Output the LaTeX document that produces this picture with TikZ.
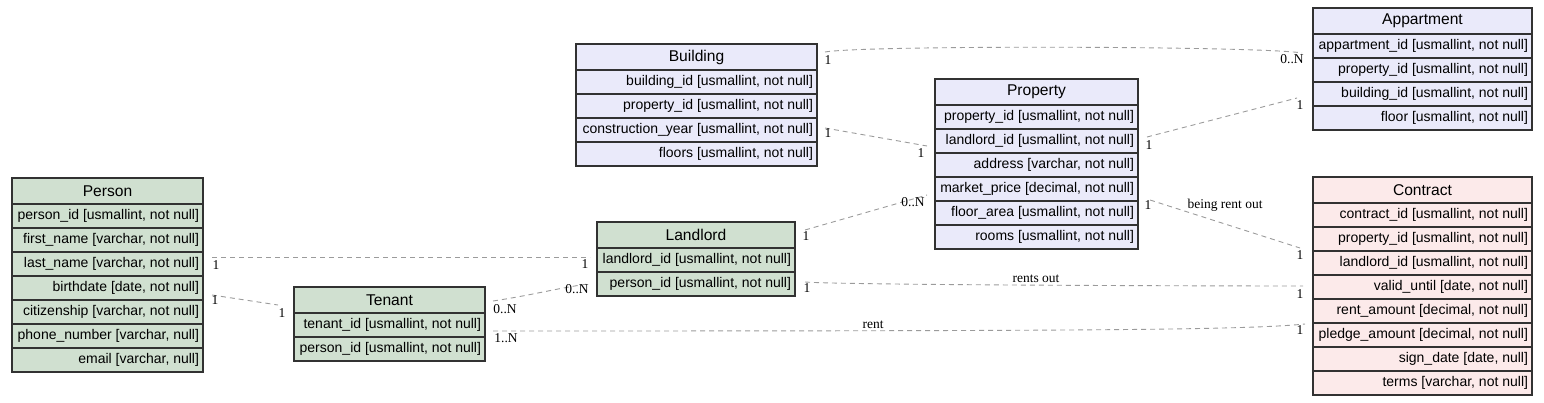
\documentclass[tikz,border=0pt]{standalone}
\usepackage{fontspec}
\setmainfont{Liberation Serif}
\newfontfamily\tabfont{Liberation Sans}
\usepackage{xcolor}
\usepackage{tikz}
\usetikzlibrary{positioning}
\definecolor{verdetab}{RGB}{208,224,208}
\definecolor{lilastab}{RGB}{234,234,250}
\definecolor{rosatab}{RGB}{252,234,234}
\definecolor{bordatab}{RGB}{50,50,50}
\definecolor{cinzarel}{RGB}{155,155,155}

% table: name, top-left corner, inner width, fill, title, fields
\newcommand{\erdtable}[6]{%
  \node[tabhead, fill=#4, anchor=north west] (#1-0) at #2 {\makebox[#3][c]{#5}};
  \foreach \f [count=\i, remember=\i as \j (initially 0)] in {#6}
    \node[tabrow, fill=#4, below=0pt of #1-\j] (#1-\i) {\makebox[#3][r]{\f}};
}

\begin{document}
\begin{tikzpicture}[x=1pt, y=-1pt,
    tabrow/.style={draw=bordatab, line width=1.3pt,
      minimum height=24pt, inner xsep=4pt, inner ysep=2pt, outer sep=0pt,
      font=\tabfont\fontsize{14}{16}\selectfont},
    tabhead/.style={tabrow, minimum height=26pt,
      font=\tabfont\fontsize{15.6}{18}\selectfont},
    rel/.style={draw=cinzarel, line width=0.9pt, dash pattern=on 5pt off 4pt},
    card/.style={inner sep=0pt, font=\fontsize{13.5}{15}\selectfont},
    rellabel/.style={inner sep=0pt, font=\fontsize{13.5}{15}\selectfont}]
  \useasboundingbox (0,0) rectangle (1544,403);

  % --- Person, Tenant, Landlord ---
  \erdtable{person}{(12,178)}{183pt}{verdetab}{Person}{%
    {person\_id [usmallint, not null]}, {first\_name [varchar, not null]},
    {last\_name [varchar, not null]}, {birthdate [date, not null]},
    {citizenship [varchar, not null]}, {phone\_number [varchar, null]},
    {email [varchar, null]}}
  \erdtable{tenant}{(294,287)}{183pt}{verdetab}{Tenant}{%
    {tenant\_id [usmallint, not null]}, {person\_id [usmallint, not null]}}
  \erdtable{landlord}{(597,222)}{190pt}{verdetab}{Landlord}{%
    {landlord\_id [usmallint, not null]}, {person\_id [usmallint, not null]}}

  % --- Building, Property, Appartment ---
  \erdtable{building}{(576,44)}{233pt}{lilastab}{Building}{%
    {building\_id [usmallint, not null]}, {property\_id [usmallint, not null]},
    {construction\_year [usmallint, not null]}, {floors [usmallint, not null]}}
  \erdtable{property}{(935,79)}{195pt}{lilastab}{Property}{%
    {property\_id [usmallint, not null]}, {landlord\_id [usmallint, not null]},
    {address [varchar, not null]}, {market\_price [decimal, not null]},
    {floor\_area [usmallint, not null]}, {rooms [usmallint, not null]}}
  \erdtable{appartment}{(1313,8)}{211pt}{lilastab}{Appartment}{%
    {appartment\_id [usmallint, not null]}, {property\_id [usmallint, not null]},
    {building\_id [usmallint, not null]}, {floor [usmallint, not null]}}

  % --- Contract ---
  \erdtable{contract}{(1313,177)}{211pt}{rosatab}{Contract}{%
    {contract\_id [usmallint, not null]}, {property\_id [usmallint, not null]},
    {landlord\_id [usmallint, not null]}, {valid\_until [date, not null]},
    {rent\_amount [decimal, not null]}, {pledge\_amount [decimal, not null]},
    {sign\_date [date, null]}, {terms [varchar, not null]}}

  % --- Relacoes ---
  \draw[rel] ([shift={(9,-7)}]person-3.east) coordinate (e1s)
    -- ([shift={(-7,-3)}]landlord-1.west) coordinate (e1e);
  \node[card] (c1s) at ([shift={(4,8)}]e1s) {1};
  \node[card] (c1e) at ([shift={(-5,7)}]e1e) {1};

  \draw[rel] ([shift={(9,7)}]person-4.east) coordinate (e2s)
    -- ([shift={(-16,5)}]tenant-0.west) coordinate (e2e);
  \node[card] (c2s) at ([shift={(3,5)}]e2s) {1};
  \node[card] (c2e) at ([shift={(4,8)}]e2e) {1};

  \draw[rel] ([shift={(8,1)}]tenant-0.east) coordinate (e3s)
    .. controls +(40,-6) and +(-30,4) .. ([shift={(-9,0)}]landlord-2.west) coordinate (e3e);
  \node[card] (c3s) at ([shift={(12,8)}]e3s) {0..N};
  \node[card] (c3e) at ([shift={(-11,5)}]e3e) {0..N};

  \draw[rel] ([shift={(8,6)}]tenant-1.east) coordinate (e4s)
    .. controls +(600,0) and +(-60,6) .. ([shift={(-8,-11)}]contract-6.west) coordinate (e4e);
  \node[card] (c4s) at ([shift={(13,7)}]e4s) {1..N};
  \node[card] (c4e) at ([shift={(-5,6)}]e4e) {1};
  \node[rellabel] (rent) at (873,325) {rent};

  \draw[rel] ([shift={(10,-2)}]landlord-2.east) coordinate (e5s)
    .. controls +(40,3) and +(-100,0) .. ([shift={(-10,-1)}]contract-4.west) coordinate (e5e);
  \node[card] (c5s) at ([shift={(2,6)}]e5s) {1};
  \node[card] (c5e) at ([shift={(-3,8)}]e5e) {1};
  \node[rellabel] (rentsout) at (1036,279) {rents out};

  \draw[rel] ([shift={(10,-5)}]landlord-0.east) coordinate (e6s)
    -- ([shift={(-8,6)}]property-4.west) coordinate (e6e);
  \node[card] (c6s) at ([shift={(1,6)}]e6s) {1};
  \node[card] (c6e) at ([shift={(-14,7)}]e6e) {0..N};

  \draw[rel] ([shift={(12,11)}]property-4.east) coordinate (e7s)
    -- ([shift={(-13,9)}]contract-2.west) coordinate (e7e);
  \node[card] (c7s) at ([shift={(-2,5)}]e7s) {1};
  \node[card] (c7e) at ([shift={(0,7)}]e7e) {1};
  \node[rellabel] (beingrent) at (1225,205) {being rent out};

  \draw[rel] ([shift={(8,-2)}]building-3.east) coordinate (e8s)
    -- ([shift={(-8,5)}]property-2.west) coordinate (e8e);
  \node[card] (c8s) at ([shift={(3,5)}]e8s) {1};
  \node[card] (c8e) at ([shift={(-6,7)}]e8e) {1};

  \draw[rel] ([shift={(8,-5)}]building-0.east) coordinate (e9s)
    .. controls +(40,-7) and +(-40,-7) .. ([shift={(-11,7)}]appartment-1.west) coordinate (e9e);
  \node[card] (c9s) at ([shift={(3,8)}]e9s) {1};
  \node[card] (c9e) at ([shift={(-10,6)}]e9e) {0..N};

  \draw[rel] ([shift={(9,-4)}]property-2.east) coordinate (e10s)
    -- ([shift={(-16,4)}]appartment-3.west) coordinate (e10e);
  \node[card] (c10s) at ([shift={(2,8)}]e10s) {1};
  \node[card] (c10e) at ([shift={(3,7)}]e10e) {1};
\end{tikzpicture}
\end{document}
